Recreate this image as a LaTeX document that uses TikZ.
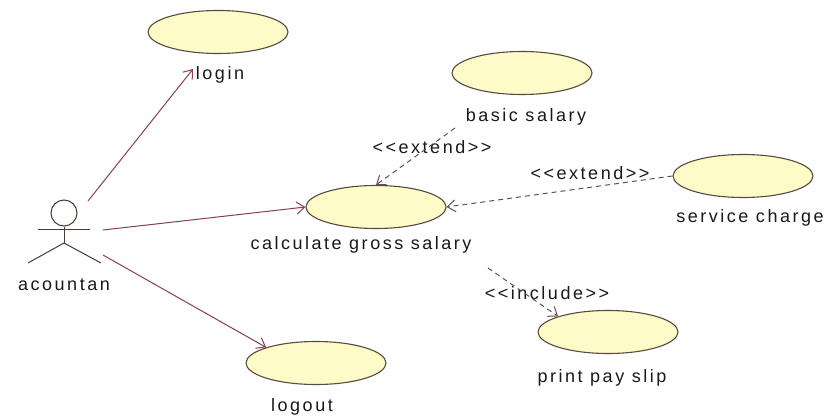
\documentclass[tikz,border=0pt]{standalone}
\usepackage{fontspec}
\setmainfont{Liberation Sans}[LetterSpace=14]
\usetikzlibrary{shapes.geometric,arrows.meta}
\definecolor{ucfill}{HTML}{FFFBC8}
\definecolor{ucdraw}{HTML}{5A4A3E}
\definecolor{assoc}{HTML}{8A3C5C}
\definecolor{dep}{HTML}{6A4A5A}
\begin{document}
\begin{tikzpicture}[x=1pt,y=-1pt,
  usecase/.style={ellipse,draw=ucdraw,fill=ucfill,line width=1.1pt,minimum width=140pt,minimum height=43pt,inner sep=0pt},
  lbl/.style={font=\fontsize{18}{20}\selectfont,text=black!90,inner sep=1pt},
  tip/.style={-{Straight Barb[length=8pt,width=12pt]}},
  assocline/.style={draw=assoc,line width=1pt,tip},
  depline/.style={draw=dep,line width=1pt,dash pattern=on 5pt off 4pt,tip},
  actorline/.style={draw=ucdraw!80!black,line width=1pt}]
\useasboundingbox (0,0) rectangle (835,417);
\fill[white] (0,0) rectangle (835,417);

% use cases
\node[usecase] (login) at (218,32) {};
\node[usecase] (basic) at (522,73) {};
\node[usecase] (calc) at (376,207) {};
\node[usecase] (service) at (743,176) {};
\node[usecase] (print) at (608,332) {};
\node[usecase] (logout) at (316,363) {};

% labels
\node[lbl] (loginlbl) at (220,75) {login};
\node[lbl] (basiclbl) at (526,117) {basic salary};
\node[lbl] (calclbl) at (361,245) {calculate gross salary};
\node[lbl] (servicelbl) at (750,218) {service charge};
\node[lbl] (printlbl) at (602,378) {print pay slip};
\node[lbl] (logoutlbl) at (302,407) {logout};
\node[lbl] (actorlbl) at (64,285) {acountan};
\node[lbl] (ext1) at (432,147) {{<}{<}extend{>}{>}};
\node[lbl] (ext2) at (590,173) {{<}{<}extend{>}{>}};
\node[lbl] (inc) at (547,293) {{<}{<}include{>}{>}};

% actor
\node[circle,draw=ucdraw!80!black,line width=1pt,minimum size=26pt,inner sep=0pt] (head) at (64,213) {};
\coordinate (hip) at (64,243);
\coordinate (armL) at (38,229);
\coordinate (armR) at (90,229);
\coordinate (legL) at (28,263);
\coordinate (legR) at (101,263);
\draw[actorline] (head.south) -- (hip);
\draw[actorline] (armL) -- (armR);
\draw[actorline] (legL) -- (hip) -- (legR);

% association endpoints
\coordinate (a1) at (88,201);
\coordinate (a2) at (103,230);
\coordinate (a3) at (103,255);
\coordinate (logintip) at (193,69);
\coordinate (bstart) at (455,128);
\coordinate (cstart) at (488,268);

\draw[assocline] (a1) -- (logintip);
\draw[assocline] (a2) -- (calc.west);
\draw[assocline] (a3) -- (logout.north west);

\draw[depline] (bstart) -- (calc.north);
\draw[depline] (service.west) -- (calc.east);
\draw[depline] (cstart) -- (print.north west);
\end{tikzpicture}
\end{document}
